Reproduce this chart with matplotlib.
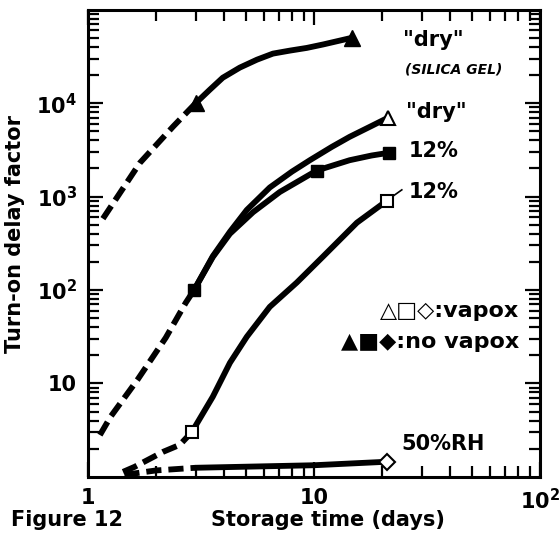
import matplotlib
matplotlib.use('Agg')
import matplotlib.pyplot as plt
from matplotlib import font_manager
from matplotlib.ticker import LogLocator, NullFormatter

# pick a narrow bold face if there is one
names = {f.name for f in font_manager.fontManager.ttflist}
narrow = 'DejaVu Sans'
for cand in ['Liberation Sans Narrow', 'DejaVu Sans Condensed']:
    if cand in names:
        narrow = cand
        break
plt.rcParams['font.family'] = [narrow, 'DejaVu Sans']
plt.rcParams['font.weight'] = 'bold'
plt.rcParams['axes.labelweight'] = 'bold'

# --- data (storage time in days, turn-on delay factor) ---
# "dry" silica gel, no vapox (filled triangles)
silica_dash_x = [1.165, 1.7, 2.38, 3.0]
silica_dash_y = [580, 2300, 5600, 10000]
silica_x = [3.0, 3.46, 3.95, 4.7, 5.6, 6.59, 7.83, 9.3, 11.0, 14.7]
silica_y = [10000, 13900, 18700, 24000, 29200, 33900, 36500, 39000, 42500, 50000]
silica_mark_x = [3.0, 14.7]
silica_mark_y = [10000, 50000]

# "dry", vapox (open triangle)
dry_x = [2.95, 3.57, 4.25, 5.05, 6.38, 8.0, 9.6, 12.0, 14.4, 18.0, 21.2]
dry_y = [100, 230, 420, 720, 1250, 1850, 2450, 3400, 4360, 5700, 6950]
dry_mark_x = [21.2]
dry_mark_y = [6950]

# 12%, no vapox (filled squares)
nv12_dash_x = [1.13, 1.26, 1.66, 2.21, 2.71, 2.95]
nv12_dash_y = [2.8, 4.4, 11, 30.8, 73, 100]
nv12_x = [2.95, 3.57, 4.25, 5.38, 7.07, 8.95, 10.3, 14.4, 18.0, 21.6]
nv12_y = [100, 225, 400, 680, 1120, 1560, 1900, 2450, 2750, 2950]
nv12_mark_x = [2.95, 10.3, 21.6]
nv12_mark_y = [100, 1900, 2950]

# 12%, vapox (open squares)
v12_dash_x = [1.43, 1.61, 2.15, 2.55, 2.88]
v12_dash_y = [1.13, 1.28, 1.85, 2.2, 3.0]
v12_x = [2.88, 3.57, 4.25, 5.05, 6.38, 8.4, 10.98, 15.5, 21.0]
v12_y = [3.0, 7.2, 16.6, 31.6, 66, 120, 228, 525, 900]
v12_mark_x = [2.88, 21.0]
v12_mark_y = [3.0, 900]

# 50% RH, vapox (open diamond)
rh_dash_x = [1.45, 2.0, 3.0]
rh_dash_y = [1.05, 1.17, 1.25]
rh_x = [3.0, 10.0, 21.0]
rh_y = [1.25, 1.33, 1.45]
rh_mark_x = [21.0]
rh_mark_y = [1.45]

x_ticks = [1, 10, 100]
x_tick_labels = ['1', '10', '10$^{2}$']
y_ticks = [10, 100, 1000, 10000]
y_tick_labels = ['10', '10$^{2}$', '10$^{3}$', '10$^{4}$']

fig = plt.figure(figsize=(5.6, 5.4), dpi=100)
ax = fig.add_axes([0.157, 0.117, 0.807, 0.865])
ax.set_xscale('log')
ax.set_yscale('log')
ax.set_xlim(1, 100)
ax.set_ylim(1, 1e5)

lw = 4.2
dash = (0, (2.6, 1.2))
solid_kw = dict(color='black', lw=lw, solid_capstyle='round', solid_joinstyle='round')
dash_kw = dict(color='black', lw=lw, linestyle=dash)

ax.plot(silica_dash_x, silica_dash_y, **dash_kw)
ax.plot(silica_x, silica_y, **solid_kw)
ax.plot(dry_x, dry_y, **solid_kw)
ax.plot(nv12_dash_x, nv12_dash_y, **dash_kw)
ax.plot(nv12_x, nv12_y, **solid_kw)
ax.plot(v12_dash_x, v12_dash_y, **dash_kw)
ax.plot(v12_x, v12_y, **solid_kw)
ax.plot(rh_dash_x, rh_dash_y, **dash_kw)
ax.plot(rh_x, rh_y, **solid_kw)

ax.plot(silica_mark_x, silica_mark_y, '^', ms=11, color='black', zorder=5)
ax.plot(dry_mark_x, dry_mark_y, '^', ms=10, mfc='white', mec='black', mew=1.5, zorder=5)
ax.plot(nv12_mark_x, nv12_mark_y, 's', ms=9, color='black', zorder=5)
ax.plot(v12_mark_x, v12_mark_y, 's', ms=9, mfc='white', mec='black', mew=1.5, zorder=5)
ax.plot(rh_mark_x, rh_mark_y, 'D', ms=8, mfc='white', mec='black', mew=1.5, zorder=5)

# little leader from the open square to its label
ax.plot([21.6, 24.5], [950, 1180], color='black', lw=1.2)

# ticks on all four sides, pointing in
ax.set_xticks(x_ticks)
ax.set_xticklabels(x_tick_labels)
ax.set_yticks(y_ticks)
ax.set_yticklabels(y_tick_labels)
ax.xaxis.set_minor_locator(LogLocator(base=10, subs=range(2, 10)))
ax.yaxis.set_minor_locator(LogLocator(base=10, subs=range(2, 10)))
ax.xaxis.set_minor_formatter(NullFormatter())
ax.yaxis.set_minor_formatter(NullFormatter())
ax.tick_params(which='both', direction='in', top=True, right=True, width=1.6)
ax.tick_params(which='major', length=11, labelsize=15, pad=8)
ax.tick_params(which='minor', length=8)
for s in ax.spines.values():
    s.set_linewidth(2.2)

ax.set_ylabel('Turn-on delay factor', fontsize=15)
ax.yaxis.set_label_coords(-0.14, 0.52)
fig.text(0.585, 0.037, 'Storage time (days)', fontsize=15, ha='center', va='center')
fig.text(0.02, 0.037, 'Figure 12', fontsize=15, ha='left', va='center')

# curve labels
ax.text(0.765, 0.935, '"dry"', transform=ax.transAxes, fontsize=15, ha='center', va='center')
ax.text(0.81, 0.872, '(SILICA GEL)', transform=ax.transAxes, fontsize=10, ha='center',
        va='center', style='italic')
ax.text(0.77, 0.780, '"dry"', transform=ax.transAxes, fontsize=15, ha='center', va='center')
ax.text(0.765, 0.697, '12%', transform=ax.transAxes, fontsize=15, ha='center', va='center')
ax.text(0.765, 0.610, '12%', transform=ax.transAxes, fontsize=15, ha='center', va='center')
ax.text(0.955, 0.355, '\u25b3\u25a1\u25c7:vapox', transform=ax.transAxes, fontsize=16,
        ha='right', va='center', family=[narrow, 'DejaVu Sans'])
ax.text(0.955, 0.289, '\u25b2\u25a0\u25c6:no vapox', transform=ax.transAxes, fontsize=16,
        ha='right', va='center', family=[narrow, 'DejaVu Sans'])
ax.text(0.785, 0.07, '50%RH', transform=ax.transAxes, fontsize=15, ha='center', va='center')

fig.savefig('out.png', dpi=100)
